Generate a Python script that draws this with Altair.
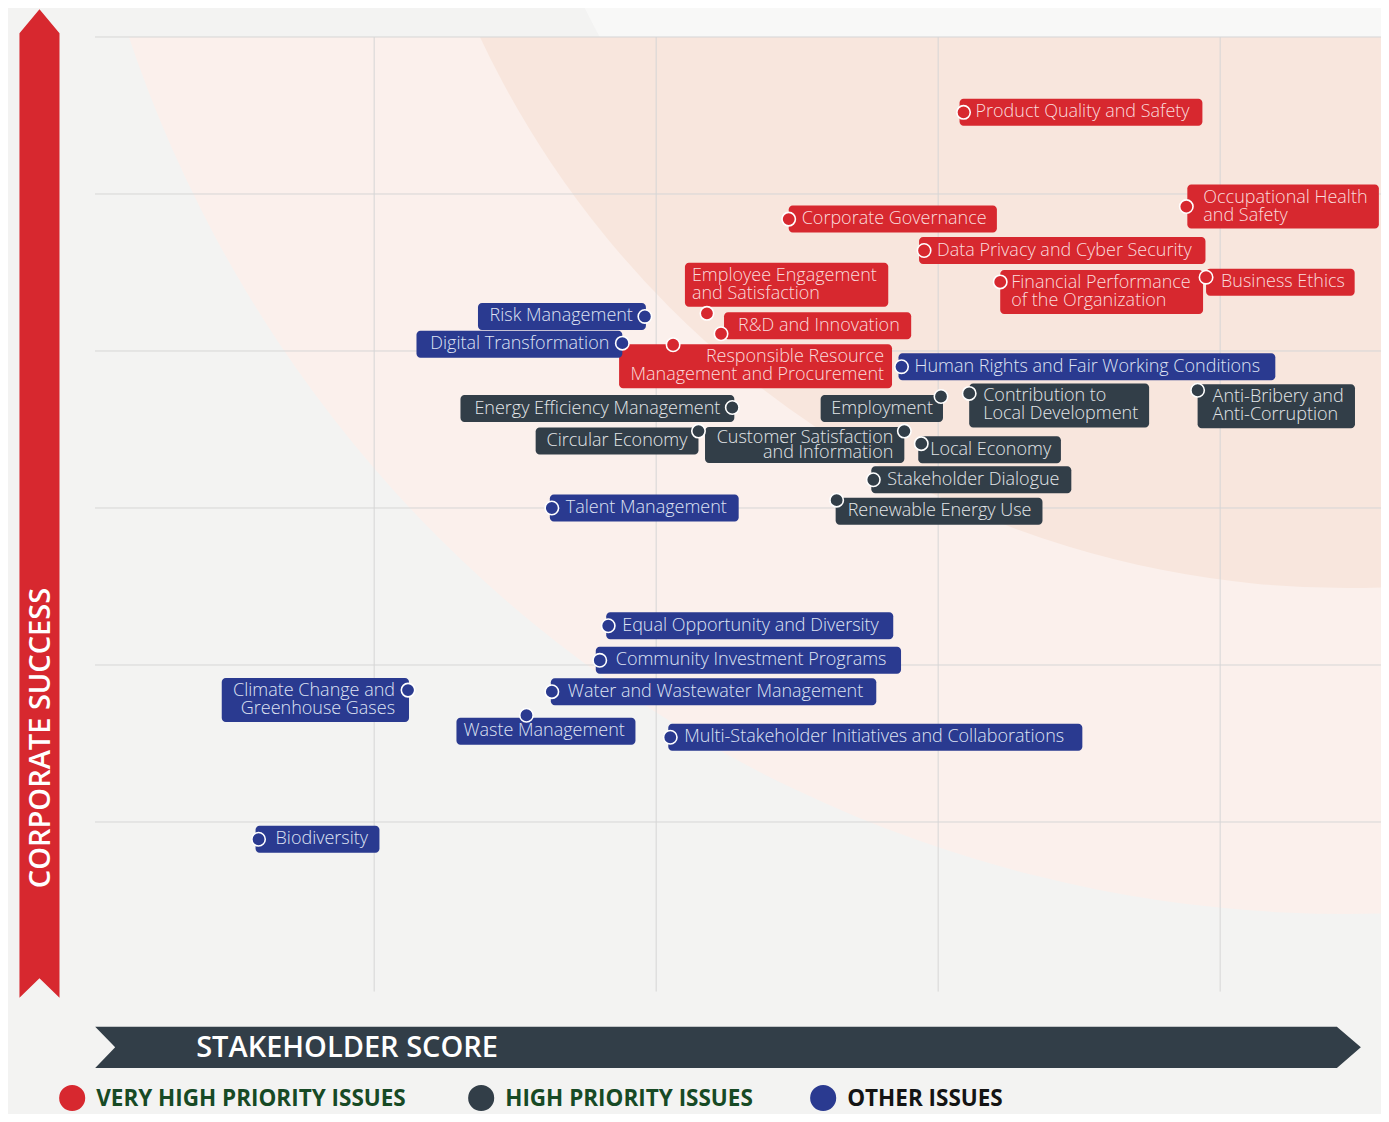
import math
import altair as alt
import pandas as pd

# ------------------------------------------------------------------ data
ISSUES = [
    "Product Quality and Safety", "Corporate Governance", "Occupational Health\nand Safety",
    "Data Privacy and Cyber Security", "Employee Engagement\nand Satisfaction",
    "Financial Performance\nof the Organization", "Business Ethics", "R&D and Innovation",
    "Responsible Resource\nManagement and Procurement",
    "Energy Efficiency Management", "Employment", "Contribution to\nLocal Development",
    "Anti-Bribery and\nAnti-Corruption", "Circular Economy", "Customer Satisfaction\nand Information",
    "Local Economy", "Stakeholder Dialogue", "Renewable Energy Use",
    "Risk Management", "Digital Transformation", "Human Rights and Fair Working Conditions",
    "Talent Management", "Equal Opportunity and Diversity", "Community Investment Programs",
    "Water and Wastewater Management", "Climate Change and\nGreenhouse Gases", "Waste Management",
    "Multi-Stakeholder Initiatives and Collaborations", "Biodiversity",
]
PRIORITY = ["VERY HIGH PRIORITY ISSUES"] * 9 + ["HIGH PRIORITY ISSUES"] * 9 + ["OTHER ISSUES"] * 11
STAKEHOLDER_SCORE = [3.09, 2.47, 3.88, 2.95, 2.18, 3.22, 3.95, 2.23, 2.06,
                     2.27, 3.01, 3.11, 3.92, 2.15, 2.88, 2.94, 2.77, 2.64,
                     1.96, 1.88, 2.87, 1.63, 1.83, 1.80, 1.63, 1.12, 1.54, 2.05, 0.59]
CORPORATE_SUCCESS = [5.52, 4.84, 4.92, 4.64, 4.24, 4.44, 4.47, 4.11, 4.04,
                     3.64, 3.71, 3.73, 3.75, 3.49, 3.49, 3.41, 3.18, 3.05,
                     4.22, 4.05, 3.90, 3.00, 2.25, 2.03, 1.83, 1.84, 1.68, 1.54, 0.89]
CATEGORIES = ["VERY HIGH PRIORITY ISSUES", "HIGH PRIORITY ISSUES", "OTHER ISSUES"]
X_GRID = [1, 2, 3, 4]
Y_GRID = [1, 2, 3, 4, 5, 6]

# ------------------------------------------------------------------ styling / layout
RED, DARK, BLUE = "#d7282f", "#323e48", "#2a3a90"
BOX_COLORS = [RED, DARK, BLUE]
TEXT_COLORS = dict(zip(CATEGORIES, ["#fadcdd", "#e3e6e9", "#dfe3f3"]))
BG = "#f3f3f2"
FONT = "Open Sans"
FS = 18
TOTAL_H = 1106

X_DOM = [0.01, 4.57]
Y_DOM = [-0.08, 6.0]
PXX, PXY = 282.0, 157.0          # pixels per unit on each axis
W = (X_DOM[1] - X_DOM[0]) * PXX
H = (Y_DOM[1] - Y_DOM[0]) * PXY


def X(px):   # page pixel -> x units (decorations only)
    return 1 + (px - 374) / PXX


def Y(py):   # page pixel -> y units (decorations only)
    return 6 - (py - 37) / PXY


# label placement: anchor side, dx, dy (px from the dot), padding on dot side
LABEL_LAYOUT = [
    ("start", -4, 0, 16), ("start", 0, 0, 13), ("start", 1, 0, 16), ("start", -5, 0, 18),
    ("start", -22, -28.5, 7), ("start", 0, 10, 11), ("start", 0, 5, 15), ("start", 3, -8, 14),
    ("start", -54, 21.5, 7),
    ("end", 2, 1, 14), ("end", 2, 12, 10), ("start", 0, 12, 14), ("start", 0, 16, 15),
    ("end", 0, 10, 11), ("end", 0, 14, 11), ("start", -3, 6, 12), ("start", -2, 0, 16),
    ("start", -1, 11, 12),
    ("end", 1, 0, 13), ("end", 0, 1, 13), ("start", -3, 0, 16), ("start", -2, 0, 16),
    ("start", -2, 0, 16), ("start", -4, 0, 20), ("start", -1, 0, 17), ("end", 1, 10, 14),
    ("start", -70, 16, 7), ("start", -2, 0, 16), ("start", -3, 0, 20),
]
RIGHT_ALIGNED_TEXT = {"Responsible Resource\nManagement and Procurement"}
TIGHT_LINES = {"Customer Satisfaction\nand Information"}

# approximate advance widths (em) of the label font
CW = {
    "A": .633, "B": .647, "C": .631, "D": .729, "E": .556, "F": .516, "G": .728, "H": .738,
    "I": .279, "J": .267, "K": .613, "L": .519, "M": .902, "N": .754, "O": .779, "P": .602,
    "Q": .779, "R": .618, "S": .549, "T": .553, "U": .728, "V": .582, "W": .899, "X": .577,
    "Y": .556, "Z": .574,
    "a": .556, "b": .613, "c": .480, "d": .613, "e": .561, "f": .336, "g": .546, "h": .613,
    "i": .258, "j": .258, "k": .525, "l": .258, "m": .930, "n": .613, "o": .600, "p": .613,
    "q": .613, "r": .408, "s": .477, "t": .353, "u": .613, "v": .501, "w": .778, "x": .524,
    "y": .502, "z": .468,
    " ": .26, "&": .727, "-": .322,
}


def text_w(s):
    return sum(CW.get(c, .56) for c in s) * FS * 0.98


rows = []
for name, pr, xs, ys, (anchor, dx, dy, pad) in zip(
        ISSUES, PRIORITY, STAKEHOLDER_SCORE, CORPORATE_SUCCESS, LABEL_LAYOUT):
    lines = name.split("\n")
    tw = max(text_w(l) for l in lines)
    w = tw + pad + 8
    tight = name in TIGHT_LINES
    lh = 15 if tight else 18
    if tight:
        h = 36
    else:
        h = 27 if len(lines) == 1 else 44
    if anchor == "start":
        bx1 = xs + dx / PXX
        bx2 = bx1 + w / PXX
    else:
        bx2 = xs + dx / PXX
        bx1 = bx2 - w / PXX
    yc = ys - dy / PXY
    if name in RIGHT_ALIGNED_TEXT:
        align, tx = "right", bx2 - 8 / PXX
    elif anchor == "start":
        align, tx = "left", bx1 + pad / PXX
    else:
        align, tx = "right", bx2 - pad / PXX
    grp = align + ("_tight" if tight else "")
    ty = yc + (len(lines) - 1) * lh / 2 / PXY
    rows.append(dict(issue=name, priority=pr, x=xs, y=ys, bx1=bx1, bx2=bx2,
                     by1=yc - h / 2 / PXY, by2=yc + h / 2 / PXY, tx=tx, ty=ty, grp=grp,
                     tcol=TEXT_COLORS[pr]))
df = pd.DataFrame(rows)

xs_ = alt.Scale(domain=X_DOM, nice=False, zero=False)
ys_ = alt.Scale(domain=Y_DOM, nice=False, zero=False)


def XE(f):
    return alt.X(f"{f}:Q", scale=xs_, axis=None)


def YE(f):
    return alt.Y(f"{f}:Q", scale=ys_, axis=None)


box_color = alt.Color("priority:N", scale=alt.Scale(domain=CATEGORIES, range=BOX_COLORS), legend=None)

# ------------------------------------------------------------------ background
centre = pd.DataFrame([dict(x=X(1347), y=Y(-370))])
TWO_PI = 2 * math.pi
bg_top = alt.Chart(centre).mark_arc(theta=0, theta2=TWO_PI, radius=851, color="#f8f8f7").encode(
    x=XE("x"), y=YE("y"))
bg_pink = alt.Chart(centre).mark_arc(theta=0, theta2=TWO_PI, radius=1284, color="#fbf0ec",
                                     clip=True).encode(x=XE("x"), y=YE("y"))
bg_orange = alt.Chart(centre).mark_arc(theta=0, theta2=TWO_PI, radius=958, color="#f8e6dd",
                                       clip=True).encode(x=XE("x"), y=YE("y"))

hgrid = pd.DataFrame({"y": Y_GRID, "x": X_DOM[0], "x2": X_DOM[1]})
vgrid = pd.DataFrame({"x": X_GRID, "y": Y_DOM[0], "y2": Y_DOM[1]})
grid_h = alt.Chart(hgrid).mark_rule(color="#d6d6d6", strokeWidth=1).encode(
    x=XE("x"), x2="x2", y=YE("y"))
grid_v = alt.Chart(vgrid).mark_rule(color="#d6d6d6", strokeWidth=1).encode(
    x=XE("x"), y=YE("y"), y2="y2")

# ------------------------------------------------------------------ labels
base = alt.Chart(df)
boxes = base.mark_rect(cornerRadius=4).encode(x=XE("bx1"), x2="bx2", y=YE("by1"), y2="by2",
                                               color=box_color)


def text_layer(grp, align, lh):
    return base.transform_filter(alt.datum.grp == grp).mark_text(
        align=align, baseline="middle", font=FONT, fontSize=FS, fontWeight=300,
        lineBreak="\n", lineHeight=lh).encode(
        x=XE("tx"), y=YE("ty"), text="issue:N", color=alt.Color("tcol:N", scale=None))


texts = [text_layer("left", "left", 18), text_layer("right", "right", 18),
         text_layer("right_tight", "right", 15)]

dots = base.mark_point(shape="circle", filled=True, size=180, opacity=1, stroke="white",
                       strokeWidth=1.6).encode(x=XE("x"), y=YE("y"), color=box_color)

# ------------------------------------------------------------------ axis arrows (custom symbols)
# vertical arrow: centre (39.3, 503.5), half height 494.2 px
V_PATH = "M0,-1 L0.0405,-0.9515 L0.0405,1 L0,0.9608 L-0.0405,1 L-0.0405,-0.9515 Z"
# horizontal arrow: centre (727.85, 1047.3), half width 632.85 px
H_PATH = "M-1,-0.0326 L0.9621,-0.0326 L1,0 L0.9621,0.0326 L-1,0.0326 L-0.9684,0 Z"
arrow_v = alt.Chart(pd.DataFrame([dict(x=X(39.3), y=Y(503.5))])).mark_point(
    shape=V_PATH, filled=True, opacity=1, size=(2 * 494.2) ** 2, color=RED, strokeWidth=0).encode(
    x=XE("x"), y=YE("y"))
arrow_h = alt.Chart(pd.DataFrame([dict(x=X(727.85), y=Y(1047.3))])).mark_point(
    shape=H_PATH, filled=True, opacity=1, size=(2 * 632.85) ** 2, color=DARK, strokeWidth=0).encode(
    x=XE("x"), y=YE("y"))

axis_titles_v = alt.Chart(pd.DataFrame([dict(t="CORPORATE SUCCESS", x=X(40.5), y=Y(738))])).mark_text(
    angle=270, align="center", baseline="middle", font="Open Sans", fontSize=29, fontWeight=600,
    color="white").encode(x=XE("x"), y=YE("y"), text="t:N")
axis_titles_h = alt.Chart(pd.DataFrame([dict(t="STAKEHOLDER SCORE", x=X(196), y=Y(1048))])).mark_text(
    align="left", baseline="middle", font="Open Sans", fontSize=29, fontWeight=600,
    color="white").encode(x=XE("x"), y=YE("y"), text="t:N")

# ------------------------------------------------------------------ legend (manual)
leg = pd.DataFrame(dict(priority=CATEGORIES,
                        cx=[X(72), X(481), X(823)],
                        tx=[X(96), X(505), X(847)],
                        y=[Y(1098)] * 3,
                        tc=["#174a25", "#174a25", "#141414"]))
leg_dots = alt.Chart(leg).mark_point(shape="circle", filled=True, size=680, opacity=1).encode(
    x=XE("cx"), y=YE("y"), color=box_color)
leg_text = alt.Chart(leg).mark_text(align="left", baseline="middle", font="Open Sans", fontSize=22.5,
                                    fontWeight=700, dy=1).encode(
    x=XE("tx"), y=YE("y"), text="priority:N", color=alt.Color("tc:N", scale=None))

chart = alt.layer(
    bg_top, bg_pink, bg_orange, grid_h, grid_v, boxes, *texts, dots,
    arrow_v, arrow_h, axis_titles_v, axis_titles_h, leg_dots, leg_text,
).properties(
    width=W, height=H,
    autosize=alt.AutoSizeParams(type="none"),
    padding={"left": 87, "top": 29, "right": 0, "bottom": TOTAL_H - 29 - H},
    background=BG,
).configure_view(stroke=None)

chart.save("out.html", embed_options={"renderer": "svg", "actions": False})
